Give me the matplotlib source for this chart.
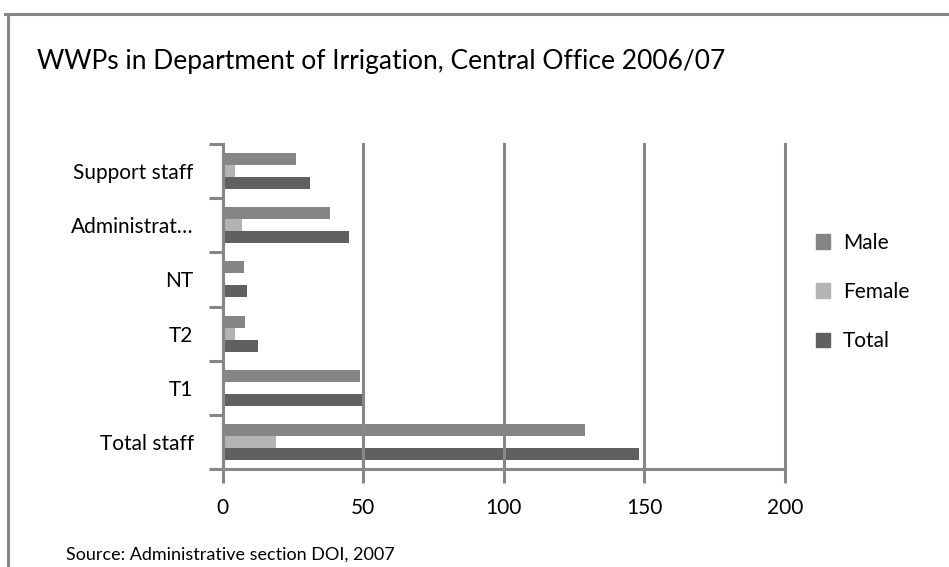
import matplotlib.pyplot as plt
import numpy as np
from matplotlib.patches import Patch

# categories bottom to top
categories = ['Total staff', 'T1', 'T2', 'NT', 'Administrat…', 'Support staff']
male = [129, 49, 8, 7.5, 38, 26]
female = [19, 0, 4.5, 0, 7, 4.5]
total = [148, 50, 12.5, 8.5, 45, 31]
xticks = [0, 50, 100, 150, 200]

plt.rcParams['font.family'] = ['Lato', 'DejaVu Sans']
grey = '#878787'
c_male = '#858585'
c_female = '#b3b3b3'
c_total = '#606060'

fig = plt.figure(figsize=(9.49, 5.67), dpi=100)
ax = fig.add_axes([0.2347, 0.1728, 0.5925, 0.5732])

y = np.arange(len(categories))
h = 0.222
ax.barh(y + h, male, height=h, color=c_male, label='Male')
ax.barh(y, female, height=h, color=c_female, label='Female')
ax.barh(y - h, total, height=h, color=c_total, label='Total')

ax.set_xlim(0, 200)
ax.set_ylim(-0.5, len(categories) - 0.5)
ax.set_xticks(xticks)
ax.set_xticklabels([str(v) for v in xticks], fontsize=15)
ax.set_yticks(np.arange(len(categories) + 1) - 0.5)
ax.set_yticklabels([])
ax.set_yticks(y, minor=True)
ax.set_yticklabels(categories, minor=True, fontsize=15)
ax.tick_params(axis='y', which='major', length=10, width=2.2, color=grey)
ax.tick_params(axis='y', which='minor', length=0, pad=21)
ax.tick_params(axis='x', length=10, width=2.2, color=grey, pad=11)

for s in ['top', 'right']:
    ax.spines[s].set_visible(False)
for s in ['left', 'bottom']:
    ax.spines[s].set_color(grey)
    ax.spines[s].set_linewidth(2.2)
ax.xaxis.grid(True, color=grey, linewidth=2.2)
for gl in ax.get_xgridlines():
    gl.set_clip_on(False)
ax.set_axisbelow(False)

fig.text(37 / 949, 1 - 62 / 567, 'WWPs in Department of Irrigation, Central Office 2006/07',
         fontsize=19, va='center', ha='left')
fig.text(66 / 949, 1 - 547 / 567, 'Source: Administrative section DOI, 2007',
         fontsize=13, va='top', ha='left')

handles = [Patch(color=c_male), Patch(color=c_female), Patch(color=c_total)]
fig.legend(handles, ['Male', 'Female', 'Total'], loc='center left',
           bbox_to_anchor=(797 / 949, 1 - 292 / 567), frameon=False, fontsize=15,
           handlelength=0.7, handleheight=0.7, labelspacing=1.4, handletextpad=0.6)

# outer frame
fig.add_artist(plt.Line2D([5 / 949, 1], [1 - 14 / 567, 1 - 14 / 567], color=grey, lw=2.2,
                          transform=fig.transFigure))
fig.add_artist(plt.Line2D([8 / 949, 8 / 949], [1 - 14 / 567, 0], color=grey, lw=2.2,
                          transform=fig.transFigure))

fig.savefig('out.png', dpi=100)
